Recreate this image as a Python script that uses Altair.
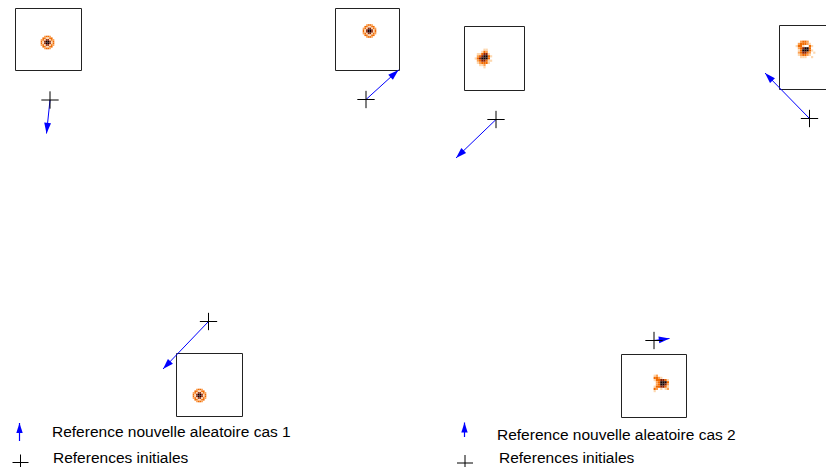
import math
import altair as alt
import pandas as pd

# ---- figure frame (units: reference figure pixels) ----
X_MIN, X_MAX = 8, 826
Y_MIN, Y_MAX = 8, 467
W, H = X_MAX - X_MIN, Y_MAX - Y_MIN

# ---- initial references (crosses) and new random references (arrow tips) ----
case = ["cas 1", "cas 1", "cas 1", "cas 2", "cas 2", "cas 2"]
cross_x = [50, 366, 208.5, 496, 809.5, 654]
cross_y = [100, 99.5, 321.5, 119.5, 118.5, 340.5]
tip_x = [46.5, 398.5, 163, 456, 765, 669.5]
tip_y = [133.5, 70, 369, 158, 73, 338.5]

# ---- image boxes ----
box_x1 = [15.5, 335.5, 176.5, 464.5, 779.5, 621.5]
box_x2 = [81.5, 399.5, 242.5, 524.5, 843.5, 686.5]
box_y1 = [8.5, 8.5, 353.5, 26.5, 25.5, 354.5]
box_y2 = [70.5, 70.5, 416.5, 90.5, 89.5, 417.5]

# ---- blobs inside boxes (centre + intensity pattern) ----
blob_x = [47.5, 369.5, 199.5, 484.5, 805.5, 663.5]
blob_y = [42.5, 31, 395.5, 58.5, 50.5, 384.5]
blob_pattern = ["ring", "ring", "ring", "a", "b", "c"]
patterns = {
    "ring": ["00233200",
             "03311330",
             "23144132",
             "31455413",
             "31455413",
             "23144132",
             "03311330",
             "00233200"],
    "a": ["000011000",
          "000132000",
          "011344100",
          "023455310",
          "134555300",
          "023443110",
          "012333100",
          "001120000",
          "000010000"],
    "b": ["002332000",
          "023332100",
          "133100310",
          "023455300",
          "013555310",
          "023443201",
          "012332100",
          "001110010",
          "000000000"],
    "c": ["120000000",
          "332100000",
          "133443100",
          "023555300",
          "023554200",
          "133443100",
          "320101200",
          "100000000",
          "000000000"],
}
cell_size = {"ring": 1.7, "a": 2.2, "b": 2.2, "c": 2.2}
level_colors = ["#fdd8b0", "#fca050", "#f06a00", "#8c1e00", "#140000"]

# ---- legends ----
legend_arrow_x = [19.5, 464.5]
legend_arrow_tail = [441, 437]
legend_arrow_tip = [423, 422.5]
legend_text_x = [52, 497]
legend_text1_y = [437, 440]          # baselines
legend_text1 = ["Reference nouvelle aleatoire cas 1", "Reference nouvelle aleatoire cas 2"]
legend_cross_x = [20.5, 465]
legend_cross_y = [462.5, 463]
legend_text2_x = [53, 499]
legend_text2_y = [463, 463]          # baselines
legend_text2 = ["References initiales", "References initiales"]


def angle(dx, dy):
    return math.degrees(math.atan2(dx, -dy)) % 360


refs = pd.DataFrame({"case": case, "cx": cross_x, "cy": cross_y,
                     "tx": tip_x, "ty": tip_y})
refs["angle"] = [angle(a - b, c - d) for a, b, c, d in zip(tip_x, cross_x, tip_y, cross_y)]

boxes = pd.DataFrame({"x1": box_x1, "x2": box_x2, "y1": box_y1, "y2": box_y2})

cells = []
for bx, by, pname in zip(blob_x, blob_y, blob_pattern):
    grid = patterns[pname]
    s = cell_size[pname]
    n = len(grid)
    for r, row in enumerate(grid):
        for c, ch in enumerate(row):
            if ch != "0":
                x0 = bx + (c - n / 2) * s
                y0 = by + (r - n / 2) * s
                cells.append({"x1": x0, "x2": x0 + s, "y1": y0, "y2": y0 + s, "level": ch})
cells = pd.DataFrame(cells)

leg_arrows = pd.DataFrame({"x": legend_arrow_x, "tail": legend_arrow_tail, "tip": legend_arrow_tip})
leg_arrows["angle"] = [angle(0, t - b) for t, b in zip(legend_arrow_tip, legend_arrow_tail)]
leg_text1 = pd.DataFrame({"x": legend_text_x, "y": legend_text1_y, "t": legend_text1})
leg_text2 = pd.DataFrame({"x": legend_text2_x, "y": legend_text2_y, "t": legend_text2})
leg_cross = pd.DataFrame({"x": legend_cross_x, "y": legend_cross_y})

xs = alt.Scale(domain=[X_MIN, X_MAX], nice=False, zero=False)
ys = alt.Scale(domain=[Y_MIN, Y_MAX], nice=False, zero=False, reverse=True)

CROSS = "M-1,0H1M0,-1V1"
HEAD = "M0,0L-0.32,1L0.32,1Z"

box_layer = alt.Chart(boxes).mark_rect(fill=None, stroke="#222222", strokeWidth=1, clip=True).encode(
    x=alt.X("x1:Q", scale=xs, axis=None), x2="x2:Q",
    y=alt.Y("y1:Q", scale=ys, axis=None), y2="y2:Q")

cell_layer = alt.Chart(cells).mark_rect(strokeWidth=0).encode(
    x=alt.X("x1:Q", scale=xs, axis=None), x2="x2:Q",
    y=alt.Y("y1:Q", scale=ys, axis=None), y2="y2:Q",
    color=alt.Color("level:N", scale=alt.Scale(domain=["1", "2", "3", "4", "5"], range=level_colors),
                    legend=None))

cross_layer = alt.Chart(refs).mark_point(shape=CROSS, size=300, filled=False, stroke="black",
                                         strokeWidth=1, opacity=1).encode(
    x=alt.X("cx:Q", scale=xs, axis=None), y=alt.Y("cy:Q", scale=ys, axis=None))

shaft_layer = alt.Chart(refs).mark_rule(color="#0000ff", strokeWidth=1).encode(
    x=alt.X("cx:Q", scale=xs, axis=None), x2="tx:Q",
    y=alt.Y("cy:Q", scale=ys, axis=None), y2="ty:Q")

head_layer = alt.Chart(refs).mark_point(shape=HEAD, size=460, filled=True, color="#0000ff",
                                        opacity=1, strokeWidth=0).encode(
    x=alt.X("tx:Q", scale=xs, axis=None), y=alt.Y("ty:Q", scale=ys, axis=None),
    angle=alt.Angle("angle:Q", scale=None))

leg_shaft = alt.Chart(leg_arrows).mark_rule(color="#0000ff", strokeWidth=1.2).encode(
    x=alt.X("x:Q", scale=xs, axis=None),
    y=alt.Y("tail:Q", scale=ys, axis=None), y2="tip:Q")

leg_head = alt.Chart(leg_arrows).mark_point(shape=HEAD, size=400, filled=True, color="#0000ff",
                                            opacity=1, strokeWidth=0).encode(
    x=alt.X("x:Q", scale=xs, axis=None), y=alt.Y("tip:Q", scale=ys, axis=None),
    angle=alt.Angle("angle:Q", scale=None))

leg_cross_layer = alt.Chart(leg_cross).mark_point(shape=CROSS, size=256, filled=False, stroke="black",
                                                  strokeWidth=1, opacity=1).encode(
    x=alt.X("x:Q", scale=xs, axis=None), y=alt.Y("y:Q", scale=ys, axis=None))

text_style = dict(align="left", baseline="alphabetic", font="Liberation Sans", fontSize=15.5, color="black")
leg_t1 = alt.Chart(leg_text1).mark_text(**text_style).encode(
    x=alt.X("x:Q", scale=xs, axis=None), y=alt.Y("y:Q", scale=ys, axis=None), text="t:N")
leg_t2 = alt.Chart(leg_text2).mark_text(**text_style).encode(
    x=alt.X("x:Q", scale=xs, axis=None), y=alt.Y("y:Q", scale=ys, axis=None), text="t:N")

chart = alt.layer(
    box_layer, cell_layer, shaft_layer, head_layer, cross_layer,
    leg_shaft, leg_head, leg_cross_layer, leg_t1, leg_t2
).properties(
    width=W, height=H, padding=0, autosize=alt.AutoSizeParams(type="none"), background="white"
).configure_view(stroke=None)

chart.save("out.html", embed_options={"renderer": "svg", "actions": False})
